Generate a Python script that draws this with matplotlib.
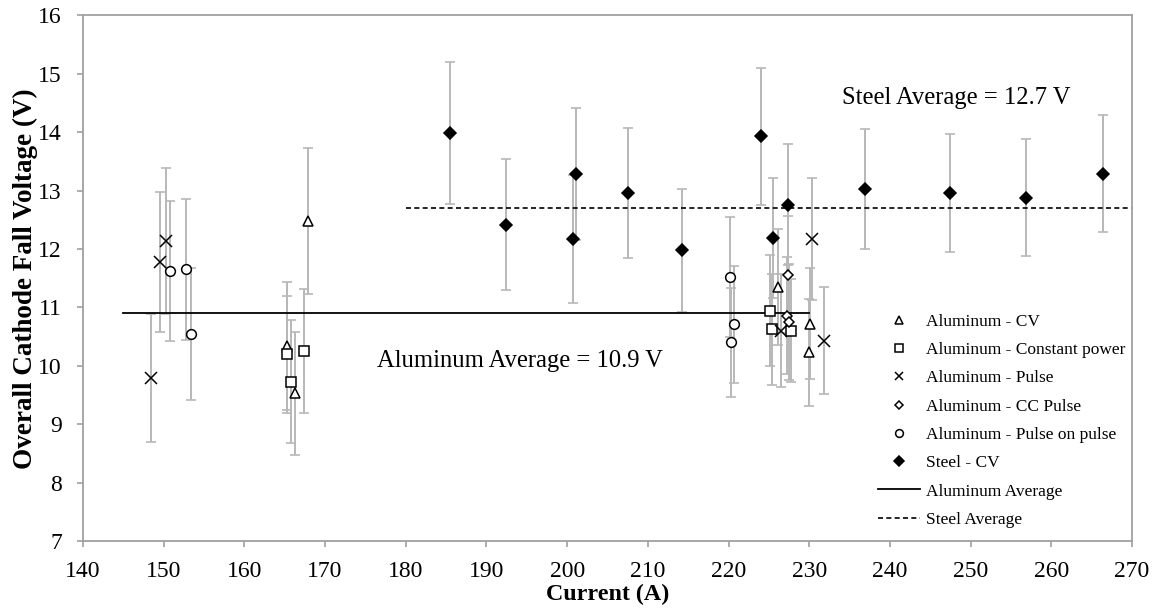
import matplotlib
matplotlib.use('Agg')
import matplotlib.pyplot as plt
from matplotlib.lines import Line2D

plt.rcParams['font.family'] = ['Liberation Serif', 'DejaVu Serif']

# Aluminum - CV
al_cv_x = [165.3, 166.3, 167.9, 226.1, 230.15, 229.95]
al_cv_y = [10.34, 9.53, 12.48, 11.35, 10.72, 10.23]
al_cv_err = [1.1, 1.05, 1.25, 1.0, 0.95, 0.92]

# Aluminum - Constant power
al_cp_x = [165.3, 165.8, 167.33, 225.1, 225.4, 227.75]
al_cp_y = [10.2, 9.73, 10.26, 10.94, 10.63, 10.6]
al_cp_err = [1.0, 1.06, 1.06, 0.95, 0.95, 0.88]

# Aluminum - Pulse
al_p_x = [148.4, 149.55, 150.34, 226.5, 230.3, 231.8]
al_p_y = [9.79, 11.78, 12.13, 10.6, 12.17, 10.43]
al_p_err = [1.1, 1.2, 1.25, 0.97, 1.04, 0.92]

# Aluminum - CC Pulse
al_ccp_x = [227.34, 227.2, 227.55]
al_ccp_y = [11.56, 10.86, 10.75]
al_ccp_err = [1.0, 1.0, 1.0]

# Aluminum - Pulse on pulse
al_pop_x = [150.75, 152.8, 153.36, 220.15, 220.7, 220.27]
al_pop_y = [11.62, 11.65, 10.54, 11.52, 10.71, 10.40]
al_pop_err = [1.2, 1.2, 1.13, 1.03, 1.0, 0.94]

# Steel - CV
st_x = [185.45, 192.44, 200.67, 201.13, 207.6, 214.2, 224.05, 225.5, 227.35,
        236.94, 247.48, 256.9, 266.4]
st_y = [13.99, 12.42, 12.17, 13.28, 12.96, 11.98, 13.93, 12.19, 12.76,
        13.03, 12.96, 12.88, 13.29]
st_err = [1.21, 1.12, 1.09, 1.13, 1.11, 1.05, 1.17, 1.03, 1.04,
          1.03, 1.01, 1.0, 1.0]

al_avg = 10.9
al_avg_range = [145, 230]
st_avg = 12.7
st_avg_range = [180, 270]

fig = plt.figure(figsize=(11.58, 6.10), dpi=100)
ax = fig.add_axes([0.0717, 0.1131, 0.9058, 0.8615])

series = [
    (al_cv_x, al_cv_y, al_cv_err, '^', 7, 'white', 'Aluminum - CV'),
    (al_cp_x, al_cp_y, al_cp_err, 's', 7, 'white', 'Aluminum - Constant power'),
    (al_p_x, al_p_y, al_p_err, 'x', 8, 'black', 'Aluminum - Pulse'),
    (al_ccp_x, al_ccp_y, al_ccp_err, 'D', 5, 'white', 'Aluminum - CC Pulse'),
    (al_pop_x, al_pop_y, al_pop_err, 'o', 7, 'white', 'Aluminum - Pulse on pulse'),
    (st_x, st_y, st_err, 'D', 6.5, 'black', 'Steel - CV'),
]

gray = '#b8b8b8'
handles = []
for xs, ys, es, m, ms, fc, lab in series:
    # error bars first so the markers sit on top
    ax.errorbar(xs, ys, yerr=es, fmt='none', ecolor=gray, elinewidth=1.4,
                capsize=3.5, capthick=1.2, zorder=1)
    ax.plot(xs, ys, linestyle='none', marker=m, markersize=ms,
            markerfacecolor=fc, markeredgecolor='black', markeredgewidth=1.1,
            zorder=3)
    handles.append(Line2D([], [], linestyle='none', marker=m, markersize=ms * 0.8,
                          markerfacecolor=fc, markeredgecolor='black',
                          markeredgewidth=1.1, label=lab))

ax.plot(al_avg_range, [al_avg, al_avg], color='black', lw=1.3, zorder=2)
ax.plot(st_avg_range, [st_avg, st_avg], color='black', lw=1.2,
        linestyle=(0, (3, 2)), zorder=2)
handles.append(Line2D([], [], color='black', lw=1.3, label='Aluminum Average'))
handles.append(Line2D([], [], color='black', lw=1.2, linestyle=(0, (3, 2)),
                      label='Steel Average'))

ax.text(248.2, 14.59, 'Steel Average = 12.7 V', fontsize=17.7,
        ha='center', va='center')
ax.text(194.2, 10.08, 'Aluminum Average = 10.9 V', fontsize=17.7,
        ha='center', va='center')

ax.set_xlim(140, 270)
ax.set_ylim(7, 16)
ax.set_xticks(range(140, 271, 10))
ax.set_yticks(range(7, 17))
ax.tick_params(labelsize=17, color='#a0a0a0', length=4.5, width=1.2)
ax.tick_params(axis='x', pad=10)
ax.tick_params(axis='y', pad=10.8)
for sp in ax.spines.values():
    sp.set_color('#a0a0a0')
    sp.set_linewidth(1.3)

ax.set_xlabel('Current (A)', fontsize=17.3, fontweight='bold', labelpad=1)
ax.set_ylabel('Overall Cathode Fall Voltage (V)', fontsize=19.5,
              fontweight='bold', labelpad=0)

ax.legend(handles=handles, loc='upper left', bbox_to_anchor=(0.7433, 0.4626),
          frameon=False, fontsize=12.5, labelspacing=0.70, handlelength=2.4,
          handletextpad=0.35)

fig.savefig('out.png', dpi=100)
